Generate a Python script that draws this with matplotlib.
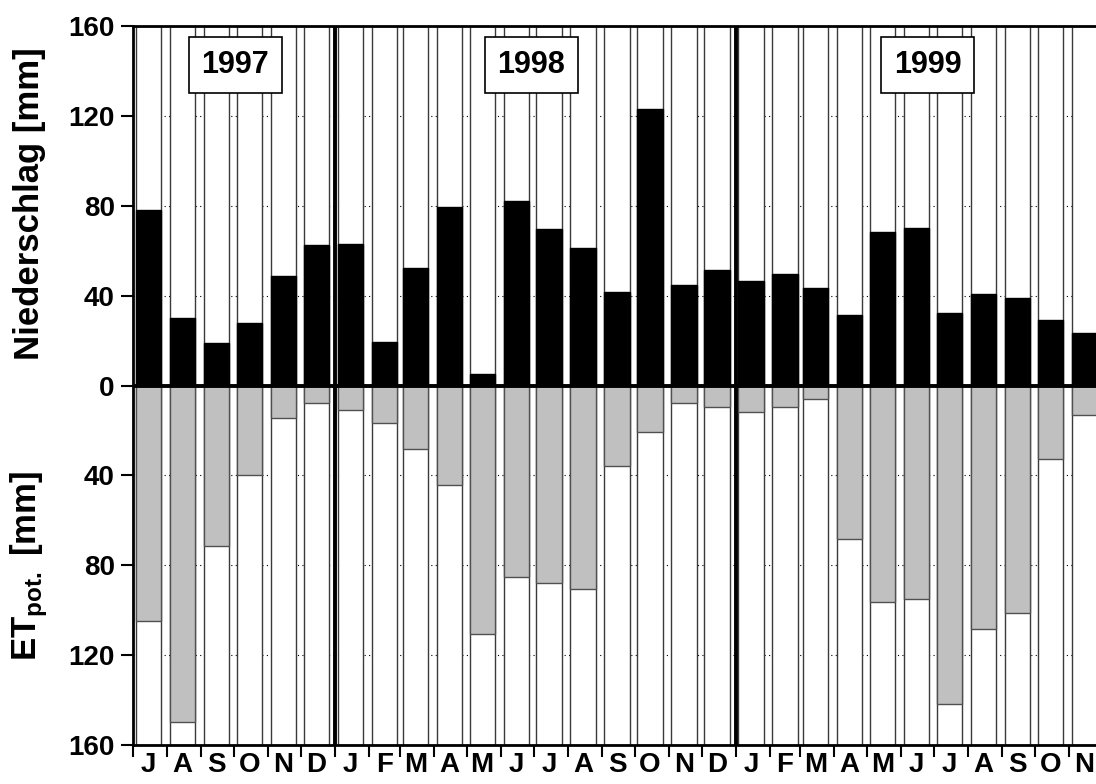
import numpy as np
import pandas as pd
import matplotlib
matplotlib.use('Agg')
import matplotlib.pyplot as plt
import matplotlib.dates as mdates
from matplotlib.ticker import FixedLocator, FixedFormatter

plt.rcParams['font.family'] = ['Liberation Sans', 'DejaVu Sans']
plt.rcParams['font.weight'] = 'bold'
plt.rcParams['mathtext.fontset'] = 'custom'
plt.rcParams['mathtext.rm'] = 'Liberation Sans:bold'
plt.rcParams['mathtext.bf'] = 'Liberation Sans:bold'

# ---- data ----
start_month = '1997-07-01'
n_months = 29
month_labels = ['J', 'A', 'S', 'O', 'N', 'D',
                'J', 'F', 'M', 'A', 'M', 'J', 'J', 'A', 'S', 'O', 'N', 'D',
                'J', 'F', 'M', 'A', 'M', 'J', 'J', 'A', 'S', 'O', 'N']
niederschlag = [78.0, 30.0, 18.9, 27.9, 48.9, 62.6,
                63.0, 19.3, 52.2, 79.5, 5.3, 82.3, 69.5, 61.2, 41.5, 123.0, 44.9, 51.3,
                46.5, 49.5, 43.4, 31.2, 68.2, 70.3, 32.2, 40.6, 38.8, 29.1, 23.2]
et_pot = [104.8, 149.9, 71.6, 39.8, 14.3, 8.0,
          11.0, 16.9, 28.4, 44.3, 110.8, 85.1, 87.7, 90.6, 35.8, 20.5, 7.6, 9.4,
          12.0, 9.5, 5.9, 68.4, 96.3, 94.8, 141.9, 108.5, 101.2, 32.7, 13.1]
years = ['1997', '1998', '1999']
year_label_dates = ['1997-10-02', '1998-06-29', '1999-06-25']
year_starts = ['1998-01-01', '1999-01-01']
y_ticks = [-160, -120, -80, -40, 0, 40, 80, 120, 160]
y_ticklabels = ['160', '120', '80', '40', '0', '40', '80', '120', '160']

# ---- figure ----
fig = plt.figure(figsize=(10.96, 7.84), dpi=100)
ax = fig.add_axes([133.3 / 1096, 39 / 784, 1 - 133.3 / 1096, 719 / 784])

months = pd.date_range(start_month, periods=n_months, freq='MS')
month_num = mdates.date2num(months.to_pydatetime())
centers = month_num + 14
bar_w = 23

# background full bars
ax.bar(centers, [160] * n_months, width=bar_w, color='white', edgecolor='#3a3a3a',
       linewidth=1.0, zorder=2)
ax.bar(centers, [-160] * n_months, width=bar_w, color='white', edgecolor='#3a3a3a',
       linewidth=1.0, zorder=2)
# data bars
ax.bar(centers, niederschlag, width=bar_w, color='black', edgecolor='black',
       linewidth=1.0, zorder=3)
ax.bar(centers, [-v for v in et_pot], width=bar_w, color='#c0c0c0', edgecolor='#505050',
       linewidth=1.0, zorder=3)

# dotted grid
for yv in [-120, -80, -40, 40, 80, 120]:
    ax.axhline(yv, color='black', linestyle=(0, (1, 3)), linewidth=0.8, zorder=1)

# year separator lines
for ys in year_starts:
    ax.axvline(mdates.date2num(pd.Timestamp(ys).to_pydatetime()), color='black',
               linewidth=2.8, zorder=4)
ax.axhline(0, color='black', linewidth=2.8, zorder=5)

# year boxes
for yl, yd in zip(years, year_label_dates):
    ax.text(mdates.date2num(pd.Timestamp(yd).to_pydatetime()), 142.5, yl,
            ha='center', va='center', fontsize=22, fontweight='bold', zorder=6,
            bbox=dict(boxstyle='square,pad=0.42', fc='white', ec='black', lw=1.2))

# axes limits
x0 = month_num[0]
ax.set_xlim(x0, x0 + 877.6)
ax.set_ylim(-160, 160)

# y ticks
ax.set_yticks(y_ticks)
ax.set_yticklabels(y_ticklabels, fontsize=20, fontweight='bold')
ax.tick_params(axis='y', direction='out', length=8.3, width=1.5, pad=5)

# x ticks: month boundaries (major), labels at mid-month (minor)
ax.xaxis.set_major_locator(FixedLocator(month_num))
ax.xaxis.set_major_formatter(FixedFormatter([''] * n_months))
ax.xaxis.set_minor_locator(FixedLocator(centers))
ax.xaxis.set_minor_formatter(FixedFormatter(month_labels))
ax.tick_params(axis='x', which='major', direction='out', length=8.3, width=1.5)
ax.tick_params(axis='x', which='minor', length=0, pad=5, labelsize=20)
for lab in ax.get_xticklabels(minor=True):
    lab.set_fontweight('bold')

for side in ['left', 'top', 'bottom']:
    ax.spines[side].set_linewidth(2)
    ax.spines[side].set_zorder(6)
ax.spines['right'].set_visible(False)

fig.text(29.5 / 1096, 1 - 204 / 784, 'Niederschlag [mm]', rotation=90, ha='center',
         va='center', fontsize=25, fontweight='bold')
fig.text(29.5 / 1096, 1 - 566 / 784, r'ET$_{\mathbf{pot.}}$ [mm]', rotation=90,
         ha='center', va='center', fontsize=25, fontweight='bold')

fig.savefig('out.png', dpi=100)
